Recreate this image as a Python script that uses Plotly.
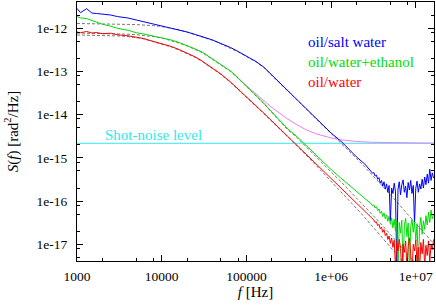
import plotly.graph_objects as go

# ---------------- data ----------------
f_lo = [1000, 1100, 1300, 1500, 1700, 2000, 2500, 3000, 4000, 5000, 6000, 7000, 8500,
        1e4, 1.3e4, 1.6e4, 2e4, 2.5e4, 3e4, 4e4, 5e4, 6.5e4, 8e4,
        1e5, 1.3e5, 1.6e5, 2e5, 2.5e5, 3e5, 4e5, 5e5, 6.5e5, 8e5,
        1e6, 1.3e6, 1.6e6, 2e6, 2.5e6]

f_hi = [2.985e6, 3.090e6, 3.199e6, 3.311e6, 3.428e6, 3.548e6, 3.673e6, 3.802e6, 3.936e6, 4.074e6,
        4.217e6, 4.365e6, 4.519e6, 4.677e6, 4.842e6, 5.012e6, 5.188e6, 5.370e6, 5.559e6, 5.754e6,
        5.957e6, 6.166e6, 6.383e6, 6.607e6, 6.839e6, 7.079e6, 7.328e6, 7.586e6, 7.852e6, 8.128e6,
        8.414e6, 8.710e6, 9.016e6, 9.333e6, 9.661e6, 1.0e7, 1.035e7, 1.072e7, 1.109e7, 1.148e7,
        1.189e7, 1.230e7, 1.274e7, 1.318e7, 1.365e7, 1.413e7, 1.462e7, 1.514e7, 1.567e7, 1.622e7]

blue_lo = [2.9e-12, 2.3e-12, 2.85e-12, 2.25e-12, 2.2e-12, 2.14e-12, 2.03e-12, 1.87e-12, 1.73e-12,
           1.56e-12, 1.44e-12, 1.33e-12, 1.23e-12, 1.13e-12, 1.02e-12, 9.1e-13, 8.2e-13, 7.18e-13,
           6.46e-13, 5.36e-13, 4.45e-13, 3.6e-13, 2.9e-13, 2.29e-13, 1.70e-13, 1.27e-13, 8.3e-14,
           5.42e-14, 3.73e-14, 2.19e-14, 1.43e-14, 8.85e-15, 5.78e-15, 3.77e-15, 2.46e-15,
           1.61e-15, 1.05e-15, 7.2e-16]
blue_hi = [5.0e-16, 4.4e-16, 4.6e-16, 3.8e-16, 4.0e-16, 3.2e-16, 3.5e-16, 2.6e-16, 3.0e-16, 2.2e-16,
           2.8e-16, 1.9e-16, 2.5e-16, 1.6e-16, 2.3e-16, 3.5e-17, 2.0e-16, 1.5e-16, 2.6e-16, 1.7e-16,
           3.0e-18, 1.9e-16, 2.8e-16, 1.4e-16, 2.4e-16, 3.1e-16, 1.6e-16, 2.2e-16, 1.2e-16, 2.7e-16,
           1.8e-16, 3.0e-16, 1.5e-16, 2.3e-16, 3.0e-17, 2.0e-16, 2.9e-16, 1.6e-16, 2.5e-16, 1.9e-16,
           3.2e-16, 2.0e-16, 3.6e-16, 2.4e-16, 4.2e-16, 2.6e-16, 5.5e-16, 3.0e-16, 4.5e-16, 3.4e-16]

green_lo = [1.86e-12, 1.74e-12, 1.68e-12, 1.50e-12, 1.40e-12, 1.24e-12, 1.12e-12, 1.00e-12, 9.0e-13,
            7.9e-13, 7.45e-13, 6.95e-13, 6.5e-13, 6.1e-13, 5.36e-13, 4.69e-13, 4.0e-13, 3.32e-13,
            2.83e-13, 1.95e-13, 1.45e-13, 1.027e-13, 7.07e-14, 4.62e-14, 2.86e-14, 1.866e-14,
            1.155e-14, 7.15e-15, 4.92e-15, 3.05e-15, 1.99e-15, 1.231e-15, 8.04e-16, 5.39e-16,
            3.42e-16, 2.42e-16, 1.713e-16, 1.179e-16]
green_hi = [8.6e-17, 7.8e-17, 8.2e-17, 6.9e-17, 7.4e-17, 6.0e-17, 6.6e-17, 5.2e-17, 5.8e-17, 4.4e-17,
            5.3e-17, 3.9e-17, 4.8e-17, 3.4e-17, 4.5e-17, 2.9e-17, 4.1e-17, 2.4e-17, 3.8e-17, 2.0e-17,
            3.5e-17, 2.5e-18, 3.2e-17, 1.8e-17, 3.6e-17, 3.0e-18, 2.7e-17, 4.0e-17, 1.5e-17, 3.1e-17,
            2.0e-18, 2.6e-17, 3.8e-17, 1.9e-17, 3.3e-17, 1.2e-17, 3.0e-17, 3.0e-18, 2.5e-17, 4.2e-17,
            1.7e-17, 3.5e-17, 2.2e-17, 4.6e-17, 2.8e-17, 5.5e-17, 3.2e-17, 6.2e-17, 3.9e-17, 5.0e-17]

red_lo = [8.21e-13, 7.9e-13, 8.45e-13, 7.75e-13, 8.0e-13, 7.5e-13, 7.7e-13, 7.1e-13, 6.7e-13,
          6.25e-13, 5.85e-13, 5.35e-13, 4.85e-13, 4.45e-13, 3.79e-13, 3.23e-13, 2.68e-13, 2.17e-13,
          1.75e-13, 1.205e-13, 8.75e-14, 5.71e-14, 3.93e-14, 2.64e-14, 1.633e-14, 1.095e-14,
          7.15e-15, 4.67e-15, 3.30e-15, 1.94e-15, 1.264e-15, 7.62e-16, 5.11e-16, 3.33e-16,
          2.01e-16, 1.348e-16, 8.80e-17, 5.74e-17]
red_hi = [4.06e-17, 3.8e-17, 3.65e-17, 3.2e-17, 3.3e-17, 2.7e-17, 2.9e-17, 2.3e-17, 2.5e-17, 1.9e-17,
          2.2e-17, 1.6e-17, 1.8e-17, 1.3e-17, 1.55e-17, 1.05e-17, 1.4e-17, 8.5e-18, 1.25e-17, 3.0e-18,
          1.1e-17, 7.0e-18, 1.3e-17, 8.0e-18, 2.5e-18, 1.0e-17, 6.5e-18, 1.2e-17, 3.0e-18, 9.0e-18,
          1.4e-17, 6.0e-18, 2.0e-18, 1.0e-17, 7.0e-18, 1.25e-17, 3.5e-18, 8.5e-18, 2.5e-18, 1.1e-17,
          6.0e-18, 1.3e-17, 3.0e-18, 9.5e-18, 5.5e-18, 1.2e-17, 4.0e-18, 1.0e-17, 7.5e-18, 1.3e-17]

# fitted curves (dashed)
f_fit = f_lo + [3e6, 4e6, 5e6, 6.5e6, 8e6, 1e7, 1.3e7, 1.64e7]
blue_fit = [1.291e-12, 1.284e-12, 1.278e-12, 1.271e-12, 1.264e-12, 1.257e-12, 1.250e-12, 1.244e-12,
            1.231e-12, 1.218e-12, 1.199e-12, 1.180e-12, 1.143e-12, 1.101e-12, 1.016e-12, 9.23e-13,
            8.12e-13, 7.07e-13, 6.36e-13, 5.25e-13, 4.35e-13, 3.50e-13, 2.83e-13, 2.22e-13, 1.66e-13,
            1.238e-13, 8.08e-14, 5.28e-14, 3.63e-14, 2.13e-14, 1.391e-14, 8.61e-15, 5.62e-15,
            3.67e-15, 2.33e-15, 1.524e-15, 9.68e-16, 6.16e-16,
            4.24e-16, 2.30e-16, 1.421e-16, 7.91e-17, 5.03e-17, 3.03e-17, 1.686e-17, 1.016e-17]
green_fit = [7.78e-13, 7.76e-13, 7.74e-13, 7.70e-13, 7.66e-13, 7.62e-13, 7.54e-13, 7.46e-13,
             7.30e-13, 7.11e-13, 6.89e-13, 6.67e-13, 6.32e-13, 5.96e-13, 5.22e-13, 4.57e-13,
             3.89e-13, 3.23e-13, 2.75e-13, 1.895e-13, 1.414e-13, 1.0e-13, 6.89e-14, 4.50e-14,
             2.78e-14, 1.816e-14, 1.124e-14, 6.96e-15, 4.67e-15, 2.89e-15, 1.836e-15, 1.107e-15,
             7.22e-16, 4.72e-16, 2.84e-16, 1.856e-16, 1.179e-16, 7.50e-17,
             5.16e-17, 2.80e-17, 1.686e-17, 9.38e-18, 5.96e-18, 3.59e-18, 2.0e-18, 1.205e-18]
red_fit = [7.0e-13, 6.98e-13, 6.96e-13, 6.92e-13, 6.89e-13, 6.85e-13, 6.78e-13, 6.67e-13,
           6.46e-13, 6.19e-13, 5.77e-13, 5.27e-13, 4.74e-13, 4.33e-13, 3.69e-13, 3.14e-13,
           2.61e-13, 2.11e-13, 1.704e-13, 1.173e-13, 8.52e-14, 5.56e-14, 3.83e-14, 2.57e-14,
           1.590e-14, 1.066e-14, 6.96e-15, 4.54e-15, 3.21e-15, 1.886e-15, 1.199e-15, 7.03e-16,
           4.59e-16, 2.92e-16, 1.713e-16, 1.089e-16, 6.74e-17, 4.17e-17,
           2.80e-17, 1.437e-17, 8.66e-18, 4.69e-18, 2.90e-18, 1.75e-18, 9.7e-19, 5.7e-19]

# fit + shot noise (magenta)
f_sum = [8e4, 1e5, 1.3e5, 1.6e5, 2e5, 2.5e5, 3e5, 4e5, 5e5, 6.5e5, 8e5, 1e6, 1.3e6, 1.6e6,
         2e6, 3e6, 5e6, 1e7, 1.64e7]
sum_S = [6.89e-14, 4.62e-14, 3.01e-14, 2.13e-14, 1.468e-14, 1.066e-14, 8.17e-15, 5.78e-15,
         4.54e-15, 3.67e-15, 3.21e-15, 2.89e-15, 2.62e-15, 2.49e-15, 2.40e-15, 2.30e-15,
         2.24e-15, 2.20e-15, 2.19e-15]

shot_noise = 2.18e-15
f_span = [1000, 1.64e7]

labels = ["oil/salt water", "oil/water+ethanol", "oil/water"]
x_tickvals = [1e3, 1e4, 1e5, 1e6, 1e7]
x_ticktext = ["1000", "10000", "100000", "1e+06", "1e+07"]
y_tickvals = [1e-17, 1e-16, 1e-15, 1e-14, 1e-13, 1e-12]
y_ticktext = ["1e-17", "1e-16", "1e-15", "1e-14", "1e-13", "1e-12"]
minor_mult = [2, 5, 8]

# ---------------- figure ----------------
BLUE, GREEN, RED = "#0000ff", "#00dd00", "#ff0000"
MAGENTA, CYAN = "#f07cf0", "#33e6ee"
FONT = "Liberation Serif"

fig = go.Figure()
for fy in (blue_fit, green_fit, red_fit):
    fig.add_trace(go.Scatter(x=f_fit, y=fy, mode="lines",
                             line=dict(color="#555555", width=0.8, dash="3px,2px")))
fig.add_trace(go.Scatter(x=f_span, y=[shot_noise, shot_noise], mode="lines",
                         line=dict(color=CYAN, width=1)))
fig.add_trace(go.Scatter(x=f_sum, y=sum_S, mode="lines", line=dict(color=MAGENTA, width=1)))
for lo, hi, col in ((blue_lo, blue_hi, BLUE), (green_lo, green_hi, GREEN), (red_lo, red_hi, RED)):
    fig.add_trace(go.Scatter(x=f_lo + f_hi, y=lo + hi, mode="lines",
                             line=dict(color=col, width=1)))

x_minor = [m * 10 ** e for e in range(3, 8) for m in minor_mult]
y_minor = [m * 10.0 ** e for e in range(-18, -11) for m in minor_mult]

axis_common = dict(type="log", showgrid=False, zeroline=False, showline=True,
                   linecolor="black", linewidth=1.3, mirror="allticks",
                   ticks="inside", ticklen=6, tickcolor="black", tickwidth=1,
                   automargin=False,
                   tickfont=dict(family=FONT, size=13.5, color="black"))

fig.update_layout(
    width=436, height=307,
    margin=dict(l=77, r=2, t=2, b=46),
    paper_bgcolor="white", plot_bgcolor="white",
    showlegend=False,
    font=dict(family=FONT, color="black"),
    xaxis=dict(**axis_common, range=[3, 7.215], tickmode="array",
               tickvals=x_tickvals, ticktext=x_ticktext, ticklabelstandoff=3,
               minor=dict(tickmode="array", tickvals=x_minor, ticks="inside", ticklen=3,
                          tickcolor="black"),
               title=dict(text="<i>f</i> [Hz]", font=dict(family=FONT, size=15), standoff=0)),
    yaxis=dict(**axis_common, range=[-17.387, -11.391], tickmode="array",
               tickvals=y_tickvals, ticktext=y_ticktext, ticklabelstandoff=6,
               minor=dict(tickmode="array", tickvals=y_minor, ticks="inside", ticklen=3,
                          tickcolor="black"),
               title=dict(text="<i>S</i>(<i>f</i>) [rad<sup>2</sup>/Hz]",
                          font=dict(family=FONT, size=15), standoff=14)),
)

for i, (txt, col) in enumerate(zip(labels, (BLUE, GREEN, RED))):
    fig.add_annotation(text=txt, xref="paper", yref="paper", x=0.641, y=0.847 - 0.0772 * i,
                       xanchor="left", yanchor="middle", showarrow=False,
                       font=dict(family=FONT, size=15, color=col))
fig.add_annotation(text="Shot-noise level", xref="paper", yref="paper", x=0.0728, y=0.488,
                   xanchor="left", yanchor="middle", showarrow=False,
                   font=dict(family=FONT, size=15, color=CYAN))

fig.write_html("out.html", config={"displayModeBar": False},
               post_script="document.body.style.margin='0px';document.body.style.overflow='hidden';")
